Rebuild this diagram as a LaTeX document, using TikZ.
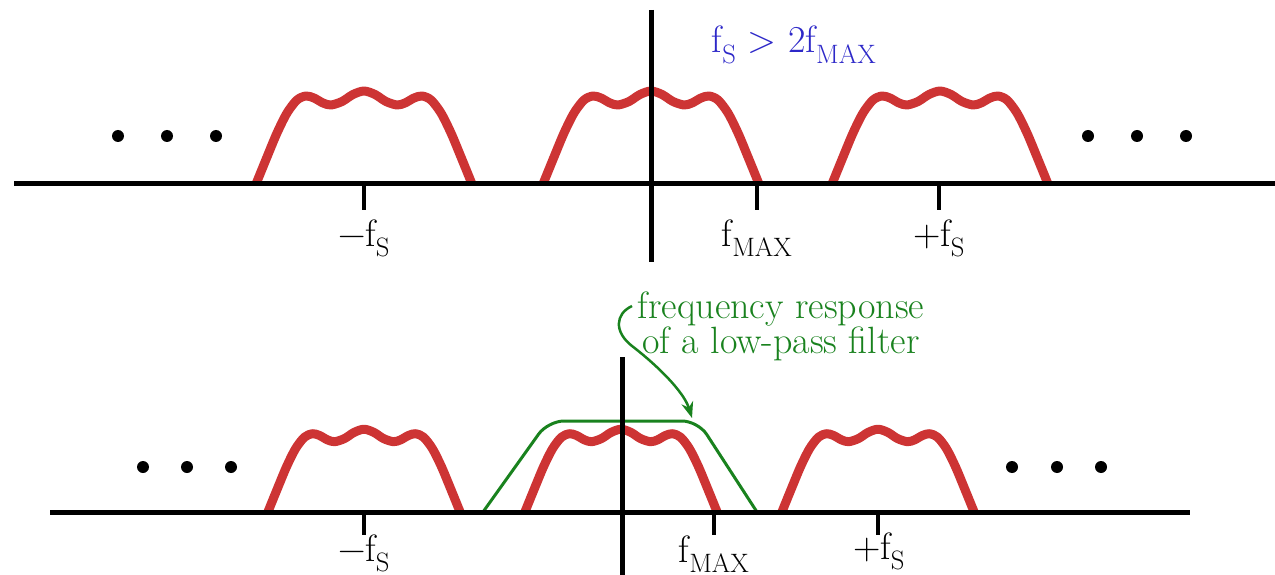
\documentclass[tikz,border=0pt]{standalone}
\usepackage{fontspec}
\usetikzlibrary{arrows.meta}
\definecolor{bumpred}{RGB}{205,52,52}
\definecolor{filtgreen}{RGB}{25,130,30}
\definecolor{noteblue}{RGB}{45,40,200}
\newcommand{\fsub}[1]{f\textsubscript{#1}}
\tikzset{
  axisline/.style={line width=5pt, black},
  tickline/.style={line width=4pt, black},
  redline/.style={line width=9pt, bumpred, line join=round},
  greenline/.style={line width=3pt, filtgreen, line join=round},
  ticklabel/.style={font=\fontsize{38}{42}\selectfont, anchor=base, inner sep=0pt},
  dotmark/.style={circle, fill=black, inner sep=0pt, minimum size=12pt},
  bump/.pic={
    \draw[redline] plot[smooth, tension=0.5] coordinates {
      (-108,0) (-97,-27) (-87,-51) (-77,-71) (-67,-84) (-58,-88) (-50,-86) (-41,-81) (-33,-79)
      (-22,-82.5) (-11,-89.5) (0,-93) (11,-89.5) (22,-82.5)
      (33,-79) (41,-81) (50,-86) (58,-88) (67,-84) (77,-71) (87,-51) (97,-27) (108,0)};
  }
}
\begin{document}
\begin{tikzpicture}[x=1pt, y=-1pt]
\useasboundingbox (0,0) rectangle (1275,575);
% ---------- top panel ----------
\pic at (364,184) {bump};
\pic at (651,184) {bump};
\pic at (940,184) {bump};
\coordinate (ta) at (14,184);
\coordinate (tb) at (1275,184);
\draw[axisline] (ta) -- (tb);
\coordinate (tv1) at (651,10);
\coordinate (tv2) at (651,262);
\draw[axisline] (tv1) -- (tv2);
\foreach \x/\n in {364/tm,757/tf,939/tp}{
  \coordinate (\n1) at (\x,184);
  \coordinate (\n2) at (\x,210);
  \draw[tickline] (\n1) -- (\n2);
}
\node[ticklabel] (ltm) at (364,246) {−\fsub{S}};
\node[ticklabel] (ltf) at (757,246) {\fsub{MAX}};
\node[ticklabel] (ltp) at (939,246) {+\fsub{S}};
\node[ticklabel, text=noteblue] (cond) at (794,53) {\fsub{S} > 2\fsub{MAX}};
\foreach \x [count=\i] in {118,167,216}{ \node[dotmark] (tdl\i) at (\x,136) {}; }
\foreach \x [count=\i] in {1088,1137,1186}{ \node[dotmark] (tdr\i) at (\x,136) {}; }
% ---------- bottom panel ----------
\coordinate (f1) at (483,512);
\coordinate (f2) at (548,421);
\coordinate (f3) at (698,421);
\coordinate (f4) at (757,512);
\draw[greenline, rounded corners=16pt] (f1) -- (f2) -- (f3) -- (f4);
\pic[scale=0.89] at (364,512) {bump};
\pic[scale=0.89] at (621,512) {bump};
\pic[scale=0.89] at (878,512) {bump};
\coordinate (ba) at (50,512);
\coordinate (bb) at (1190,512);
\draw[axisline] (ba) -- (bb);
\coordinate (bv1) at (622,357);
\coordinate (bv2) at (622,575);
\draw[axisline] (bv1) -- (bv2);
\foreach \x/\n in {364/bm,714/bf,878/bp}{
  \coordinate (\n1) at (\x,512);
  \coordinate (\n2) at (\x,535);
  \draw[tickline] (\n1) -- (\n2);
}
\node[ticklabel] (lbm) at (364,561) {−\fsub{S}};
\node[ticklabel] (lbf) at (714,562) {\fsub{MAX}};
\node[ticklabel] (lbp) at (879,559) {+\fsub{S}};
\foreach \x [count=\i] in {143,187,231}{ \node[dotmark] (bdl\i) at (\x,467) {}; }
\foreach \x [count=\i] in {1012,1057,1101}{ \node[dotmark] (bdr\i) at (\x,467) {}; }
\node[font=\fontsize{38}{35}\selectfont, text=filtgreen, align=center, inner sep=0pt, anchor=base] (note) at (781,353)
  {frequency response\\of a low-pass filter};
\coordinate (as) at (632,306);
\coordinate (ae) at (692,418);
\draw[line width=2.5pt, filtgreen, -{Stealth[length=16pt, width=12pt]}]
  (as) .. controls (615,314) and (614,332) .. (632,346) .. controls (658,366) and (684,392) .. (ae);
\end{tikzpicture}
\end{document}
